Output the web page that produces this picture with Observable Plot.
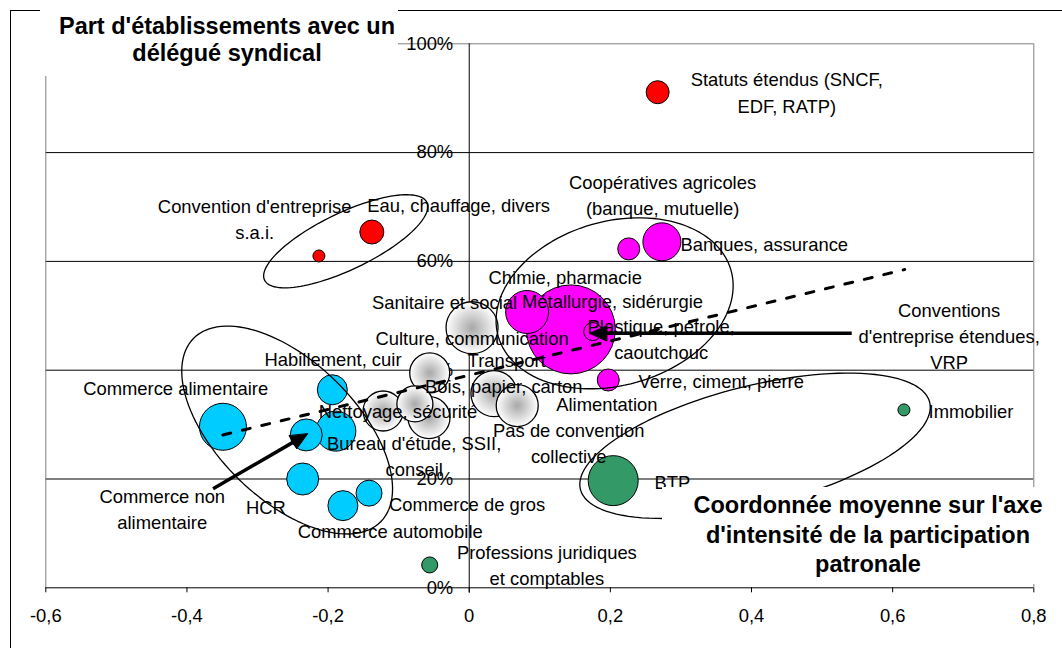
<!DOCTYPE html>
<html><head><meta charset="utf-8">
<script src="https://cdn.jsdelivr.net/npm/d3@7"></script>
<script src="https://cdn.jsdelivr.net/npm/@observablehq/plot@0.6"></script>
<style>
body{margin:0;background:#fff}
#wrap{position:relative;width:1062px;height:648px;overflow:hidden;font-family:"Liberation Sans",Arial,sans-serif;color:#000}
#wrap svg{position:absolute;left:0;top:0}
#frame{position:absolute;left:10px;top:10px;width:1200px;height:800px;border-left:1px solid #000;border-top:1px solid #000}
.box{position:absolute;background:#fff}
.ttl{position:absolute;font-weight:bold;font-size:23.5px;text-align:center;white-space:pre}
</style></head>
<body><div id="wrap"></div>
<script>
// ---- data ----
const secteurs = ["Statuts étendus (SNCF, EDF, RATP)","Convention d'entreprise s.a.i.","Eau, chauffage, divers",
 "Coopératives agricoles (banque, mutuelle)","Banques, assurance","Chimie, pharmacie","Métallurgie, sidérurgie",
 "Conventions d'entreprise étendues, VRP","Verre, ciment, pierre",
 "Alimentation","Nettoyage, sécurité","Culture, communication","Bois, papier, carton","Sanitaire et social","Transport","Pas de convention collective",
 "Commerce alimentaire","Habillement, cuir","Commerce non alimentaire","Bureau d'étude, SSII, conseil","HCR","Commerce de gros","Commerce automobile",
 "BTP","Immobilier","Professions juridiques et comptables"];
const coordX = [0.267,-0.213,-0.138, 0.226,0.273,0.082,0.144,0.175,0.197,
 -0.077,-0.122,-0.056,-0.057,0.004,0.035,0.068,
 -0.349,-0.194,-0.231,-0.189,-0.236,-0.142,-0.179,
 0.204,0.616,-0.056];
const partDS = [0.911,0.610,0.654, 0.623,0.636,0.507,0.475,0.471,0.382,
 0.338,0.325,0.395,0.313,0.478,0.357,0.335,
 0.296,0.364,0.281,0.288,0.200,0.174,0.151,
 0.197,0.327,0.042];
const poids = [13.2,3.6,14.4, 12.1,36.1,46.2,198,8.1,12.1,
 32.4,40,40,44.1,67.6,52.9,44.1,
 55.2,22.5,25.6,40,25.6,16.9,22.5,
 62.5,3.6,6.4];
const groupe = ["rouge","rouge","rouge","magenta","magenta","magenta","magenta","magenta","magenta",
 "gris","gris","gris","gris","gris","gris","gris",
 "bleu","bleu","bleu","bleu","bleu","bleu","bleu","vert","vert","vert"];

const labelText = ["Statuts étendus (SNCF,\nEDF, RATP)","Convention d'entreprise\ns.a.i.","Eau, chauffage, divers",
 "Coopératives agricoles\n(banque, mutuelle)","Banques, assurance","Chimie, pharmacie","Métallurgie, sidérurgie",
 "Plastique, pétrole,\ncaoutchouc","Conventions\nd'entreprise étendues,\nVRP","Verre, ciment, pierre",
 "Sanitaire et social","Culture, communication","Habillement, cuir","Transport","Bois, papier, carton",
 "Nettoyage, sécurité","Alimentation","Pas de convention\ncollective","Bureau d'étude, SSII,\nconseil",
 "Commerce alimentaire","Commerce non\nalimentaire","HCR","Commerce de gros","Commerce automobile",
 "Professions juridiques\net comptables","BTP","Immobilier"];
const labelX = [0.450,-0.304,-0.015,0.274,0.418,0.136,0.203,0.272,0.680,0.357,
 -0.035,0.004,-0.193,0.053,0.049,-0.101,0.195,0.141,-0.078,
 -0.416,-0.435,-0.288,-0.003,-0.112,0.110,0.288,0.711];
const labelY = [0.913,0.681,0.706,0.725,0.634,0.574,0.529,0.460,0.466,0.382,
 0.528,0.461,0.423,0.421,0.373,0.327,0.340,0.269,0.245,
 0.369,0.147,0.151,0.156,0.107,0.044,0.197,0.327];

const xTicks = [-0.6,-0.4,-0.2,0,0.2,0.4,0.6,0.8];
const xTickLabels = ["-0,6","-0,4","-0,2","0","0,2","0,4","0,6","0,8"];
const yTicks = [0,0.2,0.4,0.6,0.8,1];
const yTickLabels = ["0%","20%","40%","60%","80%","100%"];

// trend line (dashed) and arrows, in data units
const tendance = [{x:-0.349,y:0.281},{x:0.617,y:0.585}];
const fleches = [{x1:0.542,y1:0.468,x2:0.171,y2:0.468},{x1:-0.363,y1:0.182,x2:-0.229,y2:0.283}];
// hand-drawn ellipses: centre in data units, semi-axes in px, angle in degrees
const ellipses = [
 {cx:-0.175,cy:0.637,a:90,b:28.4,angle:-25.6},
 {cx:0.206,cy:0.523,a:121,b:82,angle:-15.8},
 {cx:-0.258,cy:0.290,a:131,b:69,angle:44.3},
 {cx:0.405,cy:0.261,a:180,b:60,angle:-14}
];

// ---- layout ----
const W=1062,H=648,mL=45.3,mR=28.7,mT=43.3,mB=60.7;
const kx=(W-mL-mR)/1.4, ky=(H-mT-mB)/1;
const couleurs = {rouge:"#ff0000",magenta:"#ff00ff",gris:"url(#gris)",bleu:"#00ccff",vert:"#339966"};

const pts = secteurs.map((s,i)=>({s,x:coordX[i],y:partDS[i],p:poids[i],g:groupe[i]}));
const labels = labelText.map((t,i)=>({t,x:labelX[i],y:labelY[i]}));

const ell = [];
ellipses.forEach((e,id)=>{const th=e.angle*Math.PI/180;
 for(let i=0;i<=120;i++){const t=i/120*2*Math.PI;
  const dx=e.a*Math.cos(t)*Math.cos(th)-e.b*Math.sin(t)*Math.sin(th);
  const dy=e.a*Math.cos(t)*Math.sin(th)+e.b*Math.sin(t)*Math.cos(th);
  ell.push({id,x:e.cx+dx/kx,y:e.cy-dy/ky});}});

const shafts=[], heads=[];
fleches.forEach((f,id)=>{
 let ux=(f.x2-f.x1)*kx, uy=-(f.y2-f.y1)*ky; const n=Math.hypot(ux,uy); ux/=n; uy/=n;
 const L=17, w=7.5; const bx=-ux*L, by=-uy*L;
 const toD=(px,py)=>({id,x:f.x2+px/kx,y:f.y2-py/ky});
 shafts.push({x1:f.x1,y1:f.y1,...(()=>{const b=toD(bx+ux*2,by+uy*2);return {x2:b.x,y2:b.y};})()});
 heads.push(toD(0,0), toD(bx-uy*w,by+ux*w), toD(bx+uy*w,by-ux*w));
});

const groupsOrder=["rouge","magenta","gris","bleu","vert"];
const chart = Plot.plot({
 width:W,height:H,marginLeft:mL,marginRight:mR,marginTop:mT,marginBottom:mB,
 style:{fontFamily:"'Liberation Sans', Arial, sans-serif",fontSize:"18.4px",color:"#000",background:"transparent"},
 x:{domain:[-0.6,0.8],ticks:xTicks,tickFormat:d=>xTickLabels[xTicks.indexOf(d)],tickSize:5,tickPadding:16,label:null},
 y:{domain:[0,1],axis:null},
 r:{type:"sqrt",domain:[0,198],range:[0,44.5]},
 marks:[
  Plot.ruleY([0.2,0.4,0.6,0.8],{stroke:"#000",strokeWidth:1}),
  Plot.ruleY([1],{stroke:"#808080",strokeWidth:1}),
  Plot.ruleX([-0.6,0.8],{stroke:"#808080",strokeWidth:1}),
  Plot.ruleX([0],{y1:-0.01,y2:1,stroke:"#000",strokeWidth:1}),
  Plot.ruleY([0],{stroke:"#000",strokeWidth:1}),
  Plot.text(yTicks,{x:0,y:d=>d,text:(d,i)=>yTickLabels[i],textAnchor:"end",dx:-16,fontSize:18.4}),
  ...groupsOrder.map(g=>Plot.dot(pts.filter(d=>d.g===g),{x:"x",y:"y",r:"p",fill:couleurs[g],stroke:"#000",strokeWidth:g==="gris"?1.3:1})),
  Plot.line(ell,{x:"x",y:"y",z:"id",stroke:"#000",strokeWidth:1.3,curve:"linear"}),
  Plot.line(tendance,{x:"x",y:"y",stroke:"#000",strokeWidth:3,strokeDasharray:"8,12"}),
  Plot.link(shafts,{x1:"x1",y1:"y1",x2:"x2",y2:"y2",stroke:"#000",strokeWidth:3.5}),
  Plot.line(heads,{x:"x",y:"y",z:"id",fill:"#000",stroke:"#000",strokeWidth:1,curve:"linear-closed"}),
  Plot.text(labels,{x:"x",y:"y",text:"t",textAnchor:"middle",lineAnchor:"middle",lineHeight:1.42,fontSize:18.4,fill:"#000"})
 ]
});
const ns="http://www.w3.org/2000/svg";
const defs=document.createElementNS(ns,"defs");
defs.innerHTML='<radialGradient id="gris" cx="50%" cy="50%" r="50%"><stop offset="0%" stop-color="#a8a8a8"/><stop offset="100%" stop-color="#ffffff"/></radialGradient>';
chart.insertBefore(defs,chart.firstChild);
const wrap=document.getElementById("wrap");
wrap.appendChild(chart);
wrap.insertAdjacentHTML("beforeend",
 '<div id="frame"></div>'+
 '<div class="box" style="left:40px;top:0;width:358px;height:76px"></div>'+
 '<div class="ttl" style="left:27px;top:12.5px;width:400px;line-height:27px">Part d\'établissements avec un\ndélégué syndical</div>'+
 '<div class="box" style="left:662px;top:487px;width:400px;height:97px"></div>'+
 '<div class="ttl" style="left:668px;top:491px;width:400px;line-height:29.5px">Coordonnée moyenne sur l\'axe\nd\'intensité de la participation\npatronale</div>');
</script></body></html>
